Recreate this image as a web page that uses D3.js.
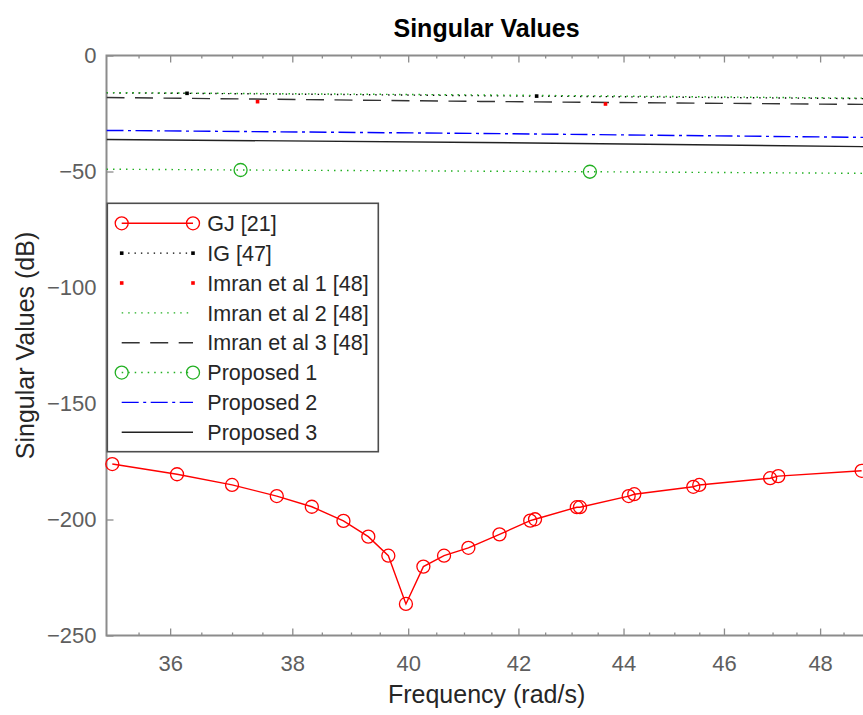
<!DOCTYPE html>
<html>
<head>
<meta charset="utf-8">
<script src="https://cdn.jsdelivr.net/npm/d3@7"></script>
<style>
  body { margin: 0; background: #fff; }
  svg { display: block; font-family: "Liberation Sans", Arial, Helvetica, sans-serif; }
</style>
</head>
<body>
<script>
var width = 863, height = 715;

// frequency (rad/s) and singular value (dB)
var gjFreq = [35.09, 36.11, 37.00, 37.74, 38.33, 38.87, 39.30, 39.65, 39.96, 40.27, 40.64, 41.08,
              41.65, 42.22, 42.31, 43.10, 43.16, 44.10, 44.21, 45.38, 45.50, 46.95, 47.12, 48.89];
var gjDb   = [-176.1, -180.5, -185.1, -189.9, -194.5, -200.6, -207.4, -215.6, -236.4, -220.3, -215.6, -212.2,
              -206.4, -200.5, -199.9, -194.7, -194.7, -189.9, -189.1, -185.9, -185.1, -182.2, -181.3, -179.0];

var igFreq = [35, 36.27, 42.34, 49];
var igDb   = [-16.1, -16.3, -17.5, -18.6];

var imran1Freq = [37.42, 43.65];
var imran1Db   = [-19.9, -20.9];

var imran2Freq = [35, 41.3, 49];
var imran2Db   = [-16.0, -17.0, -18.4];

var imran3Freq = [35, 41.3, 49];
var imran3Db   = [-18.1, -19.8, -21.1];

var prop1Freq = [35, 37.14, 43.35, 49];
var prop1Db   = [-49.0, -49.35, -50.1, -50.8];

var prop2Freq = [35, 41.3, 49];
var prop2Db   = [-32.3, -33.6, -35.3];

var prop3Freq = [35, 41.3, 49];
var prop3Db   = [-36.2, -37.5, -39.3];

var seriesNames = ["GJ [21]", "IG [47]", "Imran et al 1 [48]", "Imran et al 2 [48]",
                   "Imran et al 3 [48]", "Proposed 1", "Proposed 2", "Proposed 3"];

var xMajor = [36, 38, 40, 42, 44, 46, 48];
var yTicks = [0, -50, -100, -150, -200, -250];

// styles for each series (same order as names)
var series = [
  {f: gjFreq, v: gjDb, color: "#ff0000", dash: null, line: true, marker: "circle", mIdx: null},
  {f: igFreq, v: igDb, color: "#000000", dash: "1.4 5", line: true, marker: "dot", mIdx: [1, 2]},
  {f: imran1Freq, v: imran1Db, color: "#ff0000", dash: null, line: false, marker: "dot", mIdx: null},
  {f: imran2Freq, v: imran2Db, color: "#22b022", dash: "1.5 5", line: true, marker: null},
  {f: imran3Freq, v: imran3Db, color: "#333333", dash: "18 10.5", line: true, marker: null},
  {f: prop1Freq, v: prop1Db, color: "#22b022", dash: "1.5 5", line: true, marker: "circle", mIdx: [1, 2]},
  {f: prop2Freq, v: prop2Db, color: "#0000ff", dash: "17 4.5 3 4.5", line: true, marker: null},
  {f: prop3Freq, v: prop3Db, color: "#222222", dash: null, line: true, marker: null}
];

var axLeft = 106.5, axRight = 866.7, axTop = 55.5, axBottom = 635.5;

var svg = d3.select("body").append("svg")
            .attr("width", width)
            .attr("height", height);

var x = d3.scaleLog().domain([35, 49]).range([axLeft, axRight]);
var y = d3.scaleLinear().domain([-250, 0]).range([axBottom, axTop]);

var xMinor = d3.range(35.5, 49, 0.5).filter(function(d) { return xMajor.indexOf(d) < 0; });

var axisColor = "#8c8c8c", labelColor = "#5e5e5e";

function styleAxis(g) {
  g.select(".domain").remove();
  g.selectAll("line").attr("stroke", axisColor).attr("stroke-width", 1.3);
  g.selectAll("text").attr("fill", labelColor).attr("font-size", 22);
}

// minor ticks bottom/top
svg.append("g").attr("transform", "translate(0," + axBottom + ")")
   .call(d3.axisBottom(x).tickValues(xMinor).tickSizeInner(-3).tickSizeOuter(0).tickFormat(""))
   .call(styleAxis);
svg.append("g").attr("transform", "translate(0," + axTop + ")")
   .call(d3.axisTop(x).tickValues(xMinor).tickSizeInner(-3).tickSizeOuter(0).tickFormat(""))
   .call(styleAxis);

// major ticks
svg.append("g").attr("transform", "translate(0," + axBottom + ")")
   .call(d3.axisBottom(x).tickValues(xMajor).tickSizeInner(-7).tickSizeOuter(0)
           .tickPadding(19.4).tickFormat(d3.format("d")))
   .call(styleAxis);
svg.append("g").attr("transform", "translate(0," + axTop + ")")
   .call(d3.axisTop(x).tickValues(xMajor).tickSizeInner(-7).tickSizeOuter(0).tickFormat(""))
   .call(styleAxis);
svg.append("g").attr("transform", "translate(" + axLeft + ",0)")
   .call(d3.axisLeft(y).tickValues(yTicks).tickSizeInner(-7).tickSizeOuter(0).tickPadding(10))
   .call(styleAxis);

// axis box lines
svg.append("path")
   .attr("d", "M" + axRight + "," + axTop + "H" + axLeft + "V" + axBottom + "H" + axRight)
   .attr("fill", "none")
   .attr("stroke", axisColor)
   .attr("stroke-width", 2);

svg.append("clipPath").attr("id", "plotClip")
   .append("rect").attr("x", axLeft).attr("y", axTop)
   .attr("width", axRight - axLeft).attr("height", axBottom - axTop);

var plot = svg.append("g").attr("clip-path", "url(#plotClip)");

var line = d3.line()
             .x(function(d) { return x(d[0]); })
             .y(function(d) { return y(d[1]); });

function drawMarker(g, type, color, cx, cy) {
  if (type == "circle") {
    g.append("circle").attr("cx", cx).attr("cy", cy).attr("r", 6.5)
     .attr("fill", "none").attr("stroke", color).attr("stroke-width", 1.3);
  } else if (type == "dot") {
    g.append("rect").attr("x", cx - 1.8).attr("y", cy - 1.8)
     .attr("width", 3.6).attr("height", 3.6).attr("fill", color);
  }
}

series.forEach(function(s) {
  var pts = s.f.map(function(f, i) { return [f, s.v[i]]; });
  if (s.line) {
    plot.append("path")
        .attr("d", line(pts))
        .attr("fill", "none")
        .attr("stroke", s.color)
        .attr("stroke-width", 1.4)
        .attr("stroke-dasharray", s.dash);
  }
  if (s.marker) {
    var idx = s.mIdx || pts.map(function(d, i) { return i; });
    idx.forEach(function(i) {
      drawMarker(svg, s.marker, s.color, x(pts[i][0]), y(pts[i][1]));
    });
  }
});

// legend
var legend = svg.append("g").attr("class", "legend");
legend.append("rect")
      .attr("x", 107.3).attr("y", 203.3)
      .attr("width", 271).attr("height", 248.4)
      .attr("fill", "#fff")
      .attr("stroke", "#4d4d4d")
      .attr("stroke-width", 1.6);

var rows = legend.selectAll("g.row")
                 .data(series)
                 .enter()
                 .append("g")
                 .attr("class", "row")
                 .attr("transform", function(d, i) { return "translate(0," + (223.3 + i * 29.85) + ")"; });

rows.each(function(s, i) {
  var g = d3.select(this);
  if (s.line) {
    g.append("line").attr("x1", 121.7).attr("x2", 193).attr("y1", 0).attr("y2", 0)
     .attr("stroke", s.color).attr("stroke-width", 1.4)
     .attr("stroke-dasharray", s.dash);
  }
  if (s.marker) {
    drawMarker(g, s.marker, s.color, 121.7, 0);
    drawMarker(g, s.marker, s.color, 193, 0);
  }
  g.append("text")
   .attr("x", 207.3).attr("y", 0).attr("dy", "0.36em")
   .attr("font-size", 21.5)
   .attr("fill", "#262626")
   .text(seriesNames[i]);
});

// title and axis labels
svg.append("text")
   .attr("x", (axLeft + axRight) / 2).attr("y", 37)
   .attr("text-anchor", "middle")
   .attr("font-size", 25)
   .attr("font-weight", "bold")
   .attr("fill", "#000")
   .text("Singular Values");

svg.append("text")
   .attr("x", (axLeft + axRight) / 2).attr("y", 703)
   .attr("text-anchor", "middle")
   .attr("font-size", 25)
   .attr("fill", "#262626")
   .text("Frequency (rad/s)");

svg.append("text")
   .attr("transform", "translate(34," + (axTop + axBottom) / 2 + ") rotate(-90)")
   .attr("text-anchor", "middle")
   .attr("font-size", 25)
   .attr("fill", "#262626")
   .text("Singular Values (dB)");
</script>
</body>
</html>
